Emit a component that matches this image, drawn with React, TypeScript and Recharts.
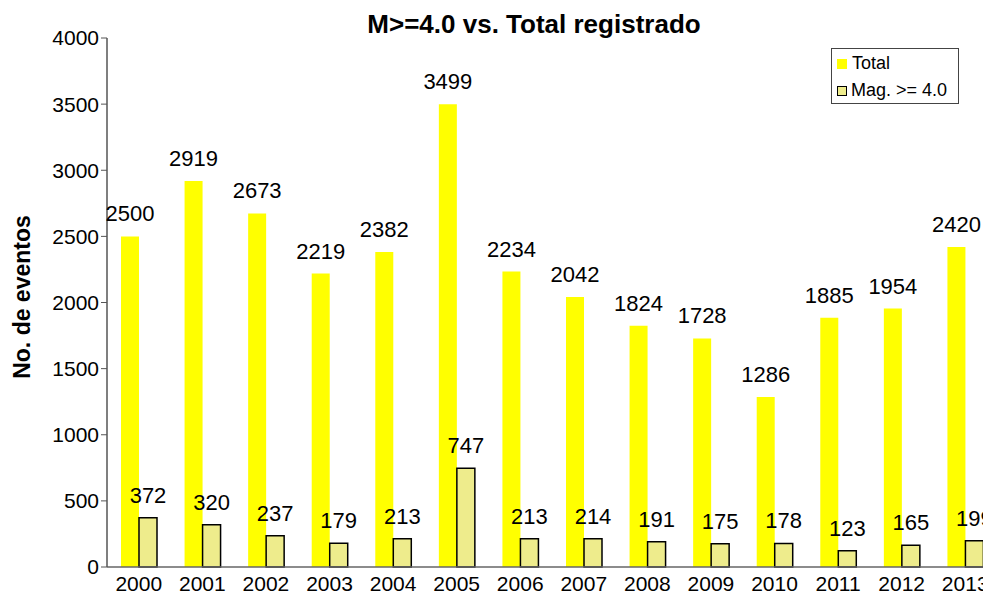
import { BarChart, Bar, XAxis, YAxis, LabelList } from "recharts";

const years = ["2000", "2001", "2002", "2003", "2004", "2005", "2006", "2007", "2008", "2009", "2010", "2011", "2012", "2013"];
const total = [2500, 2919, 2673, 2219, 2382, 3499, 2234, 2042, 1824, 1728, 1286, 1885, 1954, 2420];
const mag4 = [372, 320, 237, 179, 213, 747, 213, 214, 191, 175, 178, 123, 165, 199];
const yTicks = [0, 500, 1000, 1500, 2000, 2500, 3000, 3500, 4000];

const data = years.map((y, i) => ({ year: y, total: total[i], mag: mag4[i] }));

const FONT = "'Liberation Sans', Arial, sans-serif";

function LegendBox() {
  return (
    <div
      style={{
        position: "absolute",
        left: 831,
        top: 48,
        width: 128,
        height: 56,
        boxSizing: "border-box",
        border: "1px solid #444",
        background: "#fff",
        padding: "1px 0 0 5px",
        fontFamily: FONT,
        fontSize: 18,
        color: "#000",
        lineHeight: "27px",
        zIndex: 3,
      }}
    >
      <div style={{ display: "flex", alignItems: "center" }}>
        <span style={{ width: 10, height: 10, background: "#FFFF00", marginRight: 5 }} />
        Total
      </div>
      <div style={{ display: "flex", alignItems: "center" }}>
        <span style={{ width: 8, height: 8, background: "#EEEC8C", border: "1.5px solid #000", marginRight: 4 }} />
        Mag. &gt;= 4.0
      </div>
    </div>
  );
}

export default function App() {
  return (
    <div style={{ position: "absolute", left: 0, top: 0, width: 983, height: 601, overflow: "hidden", background: "#fff" }}>
      <div
        style={{
          position: "absolute",
          left: 0,
          width: 1068,
          top: 11,
          lineHeight: "26px",
          textAlign: "center",
          fontFamily: FONT,
          fontWeight: "bold",
          fontSize: 26,
          zIndex: 2,
        }}
      >
        M&gt;=4.0 vs. Total registrado
      </div>
      <div
        style={{
          position: "absolute",
          left: 22,
          top: 297,
          transform: "translate(-50%, -50%) rotate(-90deg)",
          whiteSpace: "nowrap",
          fontFamily: FONT,
          fontWeight: "bold",
          fontSize: 23,
          zIndex: 2,
        }}
      >
        No. de eventos
      </div>
      <LegendBox />
      <BarChart
        width={1000}
        height={601}
        data={data}
        margin={{ top: 38, right: 3, bottom: 0, left: 0 }}
        barGap={0}
        barSize={18}
      >
        <XAxis
          dataKey="year"
          height={34}
          tickLine={false}
          axisLine={{ stroke: "#666", strokeWidth: 1.5 }}
          tick={{ fill: "#000", fontSize: 21, fontFamily: FONT }}
          tickMargin={3}
        />
        <YAxis
          width={107}
          domain={[0, 4000]}
          ticks={yTicks}
          axisLine={{ stroke: "#555", strokeWidth: 1.5 }}
          tickLine={{ stroke: "#555" }}
          tickSize={6}
          tick={{ fill: "#000", fontSize: 21, fontFamily: FONT }}
        />
        <Bar dataKey="total" fill="#FFFF00" isAnimationActive={false}>
          <LabelList dataKey="total" position="top" offset={15} fill="#000" fontSize={22} fontFamily={FONT} />
        </Bar>
        <Bar dataKey="mag" fill="#EEEC8C" stroke="#000" strokeWidth={1.5} isAnimationActive={false}>
          <LabelList dataKey="mag" position="top" offset={15} fill="#000" stroke="none" fontSize={22} fontFamily={FONT} />
        </Bar>
      </BarChart>
    </div>
  );
}
